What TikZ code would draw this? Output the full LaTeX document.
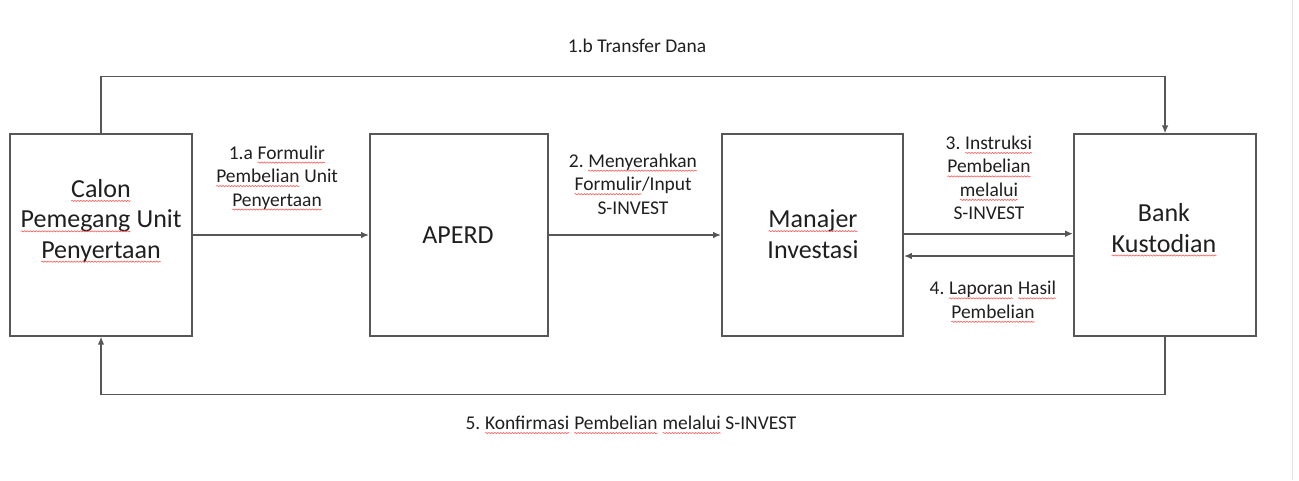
\documentclass[tikz,border=0pt]{standalone}
\usepackage{fontspec}
\setmainfont{Carlito}
\usetikzlibrary{arrows.meta,decorations.pathmorphing}
\frenchspacing
\newcommand\rw[1]{\tikz[baseline=(w.base)]{\node[inner sep=0pt,outer sep=0pt,anchor=base](w) at (0,0){#1};\draw[red!65,line width=0.45pt,decorate,decoration={snake,amplitude=0.45pt,segment length=2.2pt}]([yshift=-2.6pt]w.base west)--([yshift=-2.6pt]w.base east);}}
\begin{document}
\begin{tikzpicture}[x=0.75pt,y=-0.75pt,
  box/.style={draw=black!66, line width=1.35pt, minimum width=136.5pt, minimum height=151pt, inner sep=0pt},
  boxtxt/.style={align=center, inner sep=0pt, text=black!88, font=\fontsize{19.5}{22.8}\selectfont},
  lbl/.style={align=center, inner sep=0pt, text=black!88, font=\fontsize{14.6}{17.6}\selectfont},
  arr/.style={draw=black!66, line width=1.35pt, -{Latex[length=6pt,width=5pt]}},
  edge/.style={draw=black!10, line width=1.2pt}]
\useasboundingbox (0,0) rectangle (1299,480);
\draw[edge] (1292.5,0) -- (1292.5,480);

% boxes
\node[box] (A) at (101,235) {};
\node[box, minimum width=133.5pt] (B) at (459,235) {};
\node[box, minimum width=135.75pt] (C) at (812.5,235) {};
\node[box] (D) at (1165,235) {};

% box texts
\node[boxtxt] (At) at (101,221) {\rw{Calon}\\\rw{Pemegang} Unit\\\rw{Penyertaan}};
\node[boxtxt] (Bt) at (458,235) {APERD};
\node[boxtxt] (Ct) at (813,234) {\rw{Manajer}\\Investasi};
\node[boxtxt] (Dt) at (1164,230) {Bank\\\rw{Kustodian}};

% connectors
\draw[arr] (A) -- (B);
\draw[arr] (B) -- (C);
\draw[arr] ([yshift=1pt]C.east) -- ([yshift=1pt]D.west);
\draw[arr] ([yshift=-15.75pt]D.west) -- ([yshift=-15.75pt]C.east);
\draw[arr] (A.north) -- ++(0,-57) -| (D.north);
\draw[arr] (D.south) -- ++(0,58) -| (A.south);

% labels
\node[lbl] (L1b) at (637,46) {1.b Transfer Dana};
\node[lbl] (L1a) at (277,178) {1.a \rw{Formulir}\\\rw{Pembelian} Unit\\\rw{Penyertaan}};
\node[lbl] (L2) at (633,184) {2. \rw{Menyerahkan}\\\rw{Formulir}/Input\\S-INVEST};
\node[lbl] (L3) at (989,178) {3. \rw{Instruksi}\\\rw{Pembelian}\\\rw{melalui}\\S-INVEST};
\node[lbl] (L4) at (993,302) {4. \rw{Laporan} \rw{Hasil}\\\rw{Pembelian}};
\node[lbl] (L5) at (631,425) {5. \rw{Konfirmasi} \rw{Pembelian} \rw{melalui} S-INVEST};
\end{tikzpicture}
\end{document}
